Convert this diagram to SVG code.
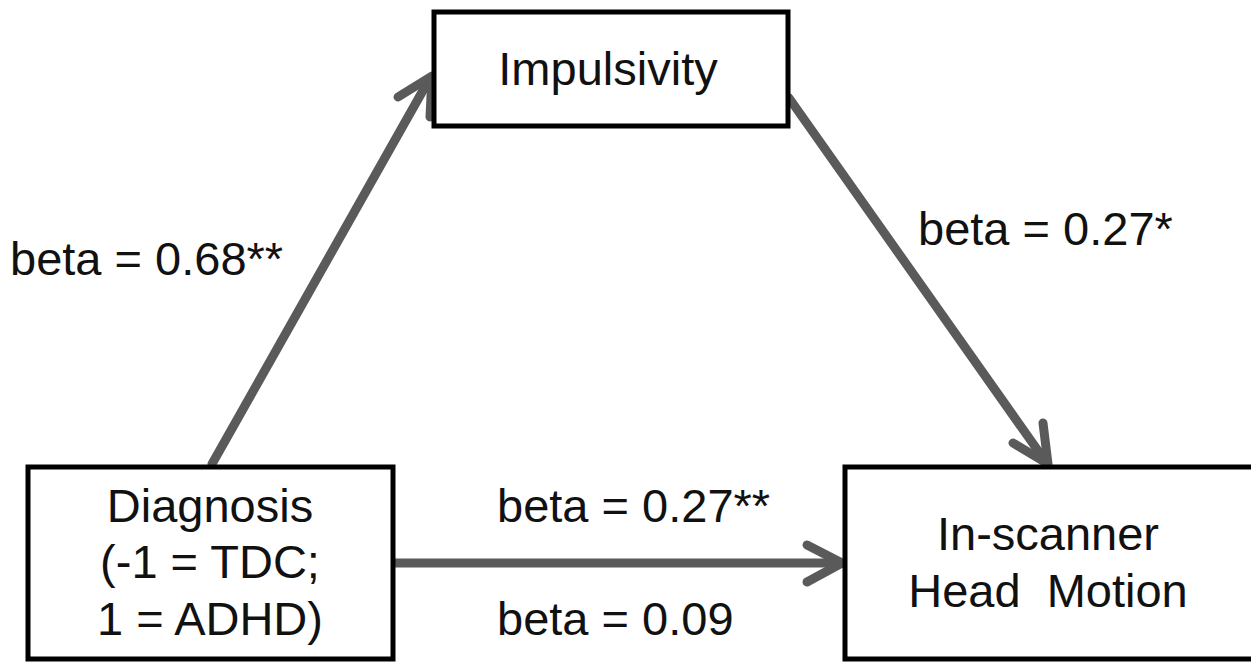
<svg xmlns="http://www.w3.org/2000/svg" width="1251" height="662" viewBox="0 0 1251 662">
<style>
.box{fill:#fff;stroke:#000;stroke-width:5}
.t{font-family:"Liberation Sans",Arial,sans-serif;font-size:47px;fill:#111}
.c{stroke:#5a5a5a;stroke-width:9;fill:none;stroke-linecap:round;stroke-linejoin:round}
</style>
<rect width="1251" height="662" fill="#fff"/>
<g id="connectors">
<line class="c" x1="212" y1="464" x2="430" y2="78"/>
<polyline class="c" points="398,97 432,76 430,117"/>
<line class="c" x1="789" y1="98" x2="1046" y2="462"/>
<polyline class="c" points="1013,443 1048,464 1043,423"/>
<line class="c" x1="395" y1="563" x2="841" y2="563"/>
<polyline class="c" points="807,545 842,563 807,582"/>
</g>
<g id="impulsivity">
<rect class="box" x="434" y="12" width="354" height="114"/>
<text class="t" x="608" y="85" text-anchor="middle">Impulsivity</text>
</g>
<g id="diagnosis">
<rect class="box" x="28" y="467" width="365" height="192"/>
<text class="t" x="210" y="522" text-anchor="middle">Diagnosis</text>
<text class="t" x="210" y="578" text-anchor="middle">(-1 = TDC;</text>
<text class="t" x="210" y="635" text-anchor="middle">1 = ADHD)</text>
</g>
<g id="headmotion">
<rect class="box" x="845" y="467" width="410" height="192"/>
<text class="t" x="1048" y="550" text-anchor="middle">In-scanner</text>
<text class="t" x="1048" y="607" text-anchor="middle" xml:space="preserve">Head  Motion</text>
</g>
<g id="labels">
<text class="t" x="10" y="275">beta = 0.68**</text>
<text class="t" x="918" y="245">beta = 0.27*</text>
<text class="t" x="497" y="522">beta = 0.27**</text>
<text class="t" x="497" y="635">beta = 0.09</text>
</g>
</svg>
